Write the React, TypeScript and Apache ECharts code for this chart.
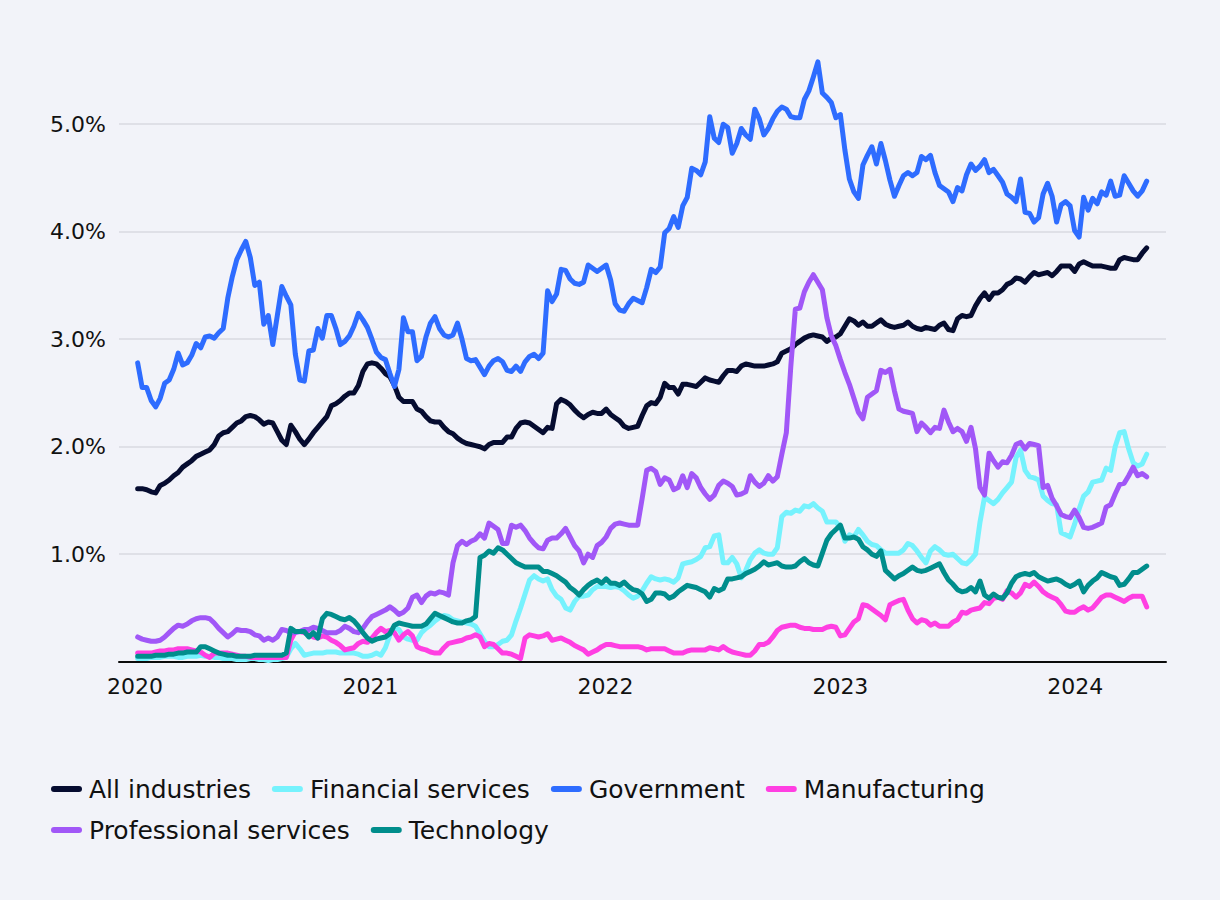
import React, { useEffect, useRef } from "react";
import * as echarts from "echarts";

// Weekly observations starting at this date
const START_DATE = "2020-01-05";
const WEEK_COUNT = 225;

const SERIES_NAMES = [
  "All industries",
  "Financial services",
  "Government",
  "Manufacturing",
  "Professional services",
  "Technology",
];

const Y_TICK_VALUES = [1, 2, 3, 4, 5];

const allIndustries = [
  1.61, 1.61, 1.6, 1.58, 1.57, 1.64, 1.66, 1.69, 1.73, 1.76,
  1.81, 1.84, 1.87, 1.91, 1.93, 1.95, 1.97, 2.02, 2.1, 2.13,
  2.14, 2.18, 2.22, 2.24, 2.28, 2.29, 2.28, 2.25, 2.21, 2.23,
  2.22, 2.14, 2.06, 2.02, 2.2, 2.14, 2.07, 2.02, 2.07, 2.13,
  2.18, 2.23, 2.28, 2.38, 2.4, 2.43, 2.47, 2.5, 2.5, 2.57,
  2.7, 2.77, 2.78, 2.77, 2.73, 2.68, 2.65, 2.57, 2.46, 2.42,
  2.42, 2.42, 2.35, 2.33, 2.28, 2.24, 2.23, 2.23, 2.18, 2.14,
  2.12, 2.08, 2.05, 2.03, 2.02, 2.01, 2.0, 1.98, 2.02, 2.04,
  2.04, 2.04, 2.09, 2.09, 2.17, 2.22, 2.23, 2.22, 2.19, 2.16,
  2.13, 2.18, 2.17, 2.4, 2.44, 2.42, 2.39, 2.34, 2.3, 2.27,
  2.3, 2.32, 2.31, 2.31, 2.35, 2.3, 2.27, 2.24, 2.19, 2.17,
  2.18, 2.19, 2.29, 2.38, 2.41, 2.4, 2.46, 2.59, 2.55, 2.55,
  2.49, 2.58, 2.58, 2.57, 2.56, 2.6, 2.64, 2.62, 2.61, 2.6,
  2.66, 2.71, 2.71, 2.7, 2.75, 2.77, 2.76, 2.75, 2.75, 2.75,
  2.76, 2.77, 2.79, 2.87, 2.89, 2.91, 2.95, 2.98, 3.01, 3.03,
  3.04, 3.03, 3.02, 2.98, 3.01, 3.02, 3.05, 3.12, 3.19, 3.17,
  3.13, 3.16, 3.12, 3.12, 3.15, 3.18, 3.14, 3.12, 3.11, 3.12,
  3.13, 3.16, 3.12, 3.1, 3.09, 3.11, 3.1, 3.09, 3.13, 3.15,
  3.09, 3.08, 3.19, 3.22, 3.21, 3.22, 3.31, 3.38, 3.43, 3.37,
  3.43, 3.43, 3.46, 3.51, 3.53, 3.57, 3.56, 3.53, 3.58, 3.62,
  3.6, 3.61, 3.62, 3.59, 3.63, 3.68, 3.68, 3.68, 3.63, 3.7,
  3.72, 3.7, 3.68, 3.68, 3.68, 3.67, 3.66, 3.66, 3.74, 3.76,
  3.75, 3.74, 3.74, 3.8, 3.85,
];

const financialServices = [
  0.03, 0.03, 0.03, 0.04, 0.04, 0.04, 0.05, 0.05, 0.05, 0.04,
  0.04, 0.05, 0.05, 0.05, 0.06, 0.05, 0.05, 0.04, 0.04, 0.03,
  0.03, 0.03, 0.02, 0.02, 0.02, 0.03, 0.03, 0.02, 0.02, 0.01,
  0.02, 0.02, 0.03, 0.04, 0.12, 0.17, 0.12, 0.06, 0.07, 0.08,
  0.08, 0.08, 0.09, 0.09, 0.09, 0.08, 0.08, 0.08, 0.08, 0.07,
  0.05, 0.05, 0.06, 0.08, 0.06, 0.13, 0.25, 0.32, 0.3, 0.23,
  0.21, 0.2, 0.2, 0.27, 0.31, 0.34, 0.38, 0.41, 0.43, 0.42,
  0.39, 0.38, 0.37, 0.36, 0.35, 0.33, 0.26, 0.19, 0.14, 0.14,
  0.16, 0.19, 0.2, 0.25, 0.38, 0.5, 0.63, 0.76, 0.8, 0.77,
  0.75, 0.77, 0.67, 0.61, 0.58, 0.5, 0.48, 0.56, 0.61, 0.61,
  0.62, 0.67, 0.7, 0.7, 0.7, 0.69, 0.7, 0.69, 0.66, 0.62,
  0.59, 0.61, 0.66, 0.73, 0.79, 0.77, 0.76, 0.77, 0.76, 0.74,
  0.78, 0.91, 0.92, 0.93, 0.95, 0.98, 1.06, 1.07, 1.17, 1.18,
  0.92, 0.92, 0.97, 0.91, 0.78, 0.85, 0.95, 1.01, 1.04, 1.01,
  1.0, 1.0, 1.06, 1.35, 1.39, 1.38, 1.41, 1.4, 1.45, 1.44,
  1.47, 1.43, 1.4, 1.3, 1.3, 1.3, 1.25, 1.12, 1.18, 1.16,
  1.23, 1.18, 1.12, 1.09, 1.08, 1.04, 1.01, 1.01, 1.01, 1.01,
  1.04, 1.1, 1.08, 1.03, 0.97, 0.92, 1.03, 1.07, 1.04, 1.0,
  0.99, 1.0, 0.96, 0.92, 0.91, 0.95, 1.0, 1.3, 1.53, 1.5,
  1.47, 1.51, 1.57, 1.62, 1.67, 1.9, 1.97, 1.78, 1.72, 1.71,
  1.69, 1.54, 1.5, 1.47, 1.46, 1.2, 1.18, 1.16, 1.28, 1.42,
  1.54, 1.58, 1.67, 1.68, 1.69, 1.8, 1.78, 2.0, 2.13, 2.14,
  1.98, 1.85, 1.82, 1.84, 1.93,
];

const government = [
  2.78, 2.55, 2.55, 2.43, 2.37, 2.45, 2.59, 2.62, 2.72, 2.87,
  2.76, 2.78, 2.85, 2.96, 2.92, 3.02, 3.03, 3.01, 3.06, 3.1,
  3.38, 3.58, 3.74, 3.83, 3.91, 3.76, 3.5, 3.53, 3.14, 3.22,
  2.95, 3.22, 3.49, 3.4, 3.32, 2.86, 2.62, 2.61, 2.89, 2.9,
  3.1, 3.01, 3.22, 3.22, 3.1, 2.95, 2.98, 3.03, 3.12, 3.24,
  3.18, 3.11, 3.0, 2.88, 2.83, 2.81, 2.68, 2.56, 2.72, 3.2,
  3.07, 3.07, 2.8, 2.84, 3.02, 3.15, 3.21, 3.1, 3.04, 3.02,
  3.04, 3.15, 3.0, 2.82, 2.8, 2.81, 2.74, 2.67, 2.75, 2.8,
  2.82, 2.79, 2.71, 2.7, 2.75, 2.7, 2.79, 2.84, 2.86, 2.82,
  2.87, 3.45, 3.35, 3.42, 3.65, 3.64, 3.56, 3.52, 3.51, 3.53,
  3.69, 3.66, 3.63, 3.66, 3.69, 3.55, 3.33, 3.27, 3.26, 3.33,
  3.38, 3.36, 3.34, 3.48, 3.65, 3.62, 3.67, 3.99, 4.03, 4.14,
  4.04, 4.24, 4.32, 4.59, 4.57, 4.53, 4.65, 5.07, 4.87, 4.83,
  5.0, 4.97, 4.73, 4.82, 4.96, 4.9, 4.86, 5.14, 5.05, 4.9,
  4.96, 5.05, 5.12, 5.16, 5.14, 5.07, 5.06, 5.06, 5.23, 5.31,
  5.44, 5.58, 5.29, 5.25, 5.2, 5.06, 5.09, 4.76, 4.49, 4.37,
  4.31, 4.62, 4.71, 4.79, 4.63, 4.82, 4.66, 4.48, 4.33, 4.43,
  4.52, 4.55, 4.52, 4.55, 4.7, 4.67, 4.71, 4.55, 4.43, 4.4,
  4.37, 4.28, 4.41, 4.38, 4.53, 4.63, 4.57, 4.61, 4.67, 4.55,
  4.58, 4.52, 4.46, 4.35, 4.32, 4.28, 4.49, 4.18, 4.17, 4.09,
  4.13, 4.35, 4.45, 4.33, 4.09, 4.25, 4.28, 4.24, 4.01, 3.95,
  4.32, 4.2, 4.31, 4.26, 4.37, 4.34, 4.47, 4.33, 4.34, 4.52,
  4.45, 4.38, 4.33, 4.38, 4.47,
];

const manufacturing = [
  0.08, 0.08, 0.08, 0.08, 0.09, 0.1, 0.1, 0.11, 0.11, 0.12,
  0.12, 0.12, 0.11, 0.1, 0.09, 0.06, 0.04, 0.08, 0.08, 0.08,
  0.08, 0.07, 0.06, 0.05, 0.05, 0.04, 0.04, 0.04, 0.04, 0.04,
  0.04, 0.04, 0.04, 0.04, 0.2, 0.28, 0.28, 0.27, 0.25, 0.23,
  0.22, 0.24, 0.23, 0.2, 0.18, 0.15, 0.11, 0.12, 0.13, 0.17,
  0.19, 0.18, 0.22, 0.27, 0.31, 0.28, 0.29, 0.27, 0.2, 0.25,
  0.28, 0.24, 0.14, 0.12, 0.11, 0.09, 0.08, 0.08, 0.13, 0.17,
  0.18, 0.19, 0.2, 0.22, 0.23, 0.25, 0.23, 0.14, 0.17, 0.16,
  0.12, 0.08, 0.08, 0.07, 0.05, 0.03, 0.22, 0.25, 0.24, 0.23,
  0.24, 0.26, 0.2, 0.21, 0.22, 0.2, 0.18, 0.15, 0.13, 0.11,
  0.07, 0.09, 0.11, 0.14, 0.16, 0.16, 0.15, 0.14, 0.14, 0.14,
  0.14, 0.14, 0.13, 0.11, 0.12, 0.12, 0.12, 0.12, 0.1, 0.08,
  0.08, 0.08, 0.1, 0.11, 0.11, 0.11, 0.11, 0.13, 0.12, 0.11,
  0.14, 0.11, 0.09, 0.08, 0.07, 0.06, 0.06, 0.1, 0.16, 0.16,
  0.18, 0.23, 0.29, 0.32, 0.33, 0.34, 0.34, 0.32, 0.31, 0.31,
  0.3, 0.3, 0.3, 0.32, 0.33, 0.32, 0.24, 0.25, 0.31, 0.37,
  0.4, 0.53, 0.52, 0.49, 0.46, 0.43, 0.39, 0.53, 0.55, 0.57,
  0.58, 0.48, 0.4, 0.36, 0.39, 0.38, 0.34, 0.36, 0.33, 0.33,
  0.33, 0.37, 0.39, 0.46, 0.45, 0.48, 0.49, 0.5, 0.55, 0.54,
  0.59, 0.6, 0.58, 0.66, 0.64, 0.6, 0.64, 0.72, 0.7, 0.74,
  0.7, 0.65, 0.62, 0.6, 0.58, 0.53, 0.47, 0.46, 0.46, 0.49,
  0.51, 0.48, 0.5, 0.55, 0.6, 0.62, 0.62, 0.6, 0.58, 0.56,
  0.59, 0.61, 0.61, 0.61, 0.51,
];

const professionalServices = [
  0.23, 0.21, 0.2, 0.19, 0.19, 0.2, 0.23, 0.27, 0.31, 0.34,
  0.33, 0.35, 0.38, 0.4, 0.41, 0.41, 0.4, 0.36, 0.31, 0.27,
  0.23, 0.26, 0.3, 0.29, 0.29, 0.28, 0.25, 0.24, 0.2, 0.22,
  0.2, 0.23, 0.3, 0.29, 0.27, 0.27, 0.28, 0.3, 0.3, 0.32,
  0.31, 0.29, 0.27, 0.27, 0.27, 0.29, 0.33, 0.31, 0.28, 0.27,
  0.31, 0.37, 0.42, 0.44, 0.46, 0.48, 0.51, 0.48, 0.44, 0.46,
  0.5, 0.6, 0.62, 0.55, 0.61, 0.64, 0.63, 0.65, 0.64, 0.62,
  0.92, 1.08, 1.12, 1.09, 1.12, 1.14, 1.19, 1.15, 1.29, 1.26,
  1.23, 1.1, 1.1, 1.27, 1.25, 1.27, 1.22, 1.15, 1.1, 1.06,
  1.05, 1.13, 1.15, 1.15, 1.19, 1.24, 1.16, 1.08, 1.03, 0.92,
  1.0, 0.97, 1.08, 1.11, 1.16, 1.24, 1.28, 1.29, 1.28, 1.27,
  1.27, 1.27, 1.52, 1.78, 1.8, 1.77, 1.65, 1.71, 1.69, 1.6,
  1.62, 1.73, 1.62, 1.75, 1.71, 1.62, 1.56, 1.51, 1.55, 1.64,
  1.68, 1.66, 1.63, 1.55, 1.56, 1.58, 1.73, 1.67, 1.63, 1.66,
  1.73, 1.68, 1.72, 1.93, 2.13, 2.75, 3.28, 3.29, 3.44, 3.53,
  3.6, 3.53, 3.46, 3.2, 3.03, 2.94, 2.81, 2.69, 2.58, 2.45,
  2.32, 2.26, 2.46, 2.49, 2.52, 2.71, 2.69, 2.72, 2.52, 2.35,
  2.33, 2.32, 2.31, 2.14, 2.22, 2.18, 2.13, 2.18, 2.17, 2.34,
  2.23, 2.14, 2.17, 2.14, 2.05, 2.18, 1.98, 1.62, 1.55, 1.94,
  1.87, 1.81, 1.86, 1.85, 1.92, 2.02, 2.04, 1.98, 2.03, 2.02,
  2.01, 1.62, 1.64, 1.52, 1.45, 1.37, 1.35, 1.34, 1.41, 1.34,
  1.25, 1.24, 1.25, 1.27, 1.29, 1.44, 1.46, 1.56, 1.65, 1.66,
  1.73, 1.81, 1.73, 1.75, 1.72,
];

const technology = [
  0.05, 0.05, 0.05, 0.05, 0.06, 0.06, 0.06, 0.07, 0.07, 0.08,
  0.08, 0.09, 0.09, 0.09, 0.14, 0.14, 0.12, 0.1, 0.08, 0.07,
  0.06, 0.06, 0.05, 0.05, 0.05, 0.05, 0.06, 0.06, 0.06, 0.06,
  0.06, 0.06, 0.06, 0.08, 0.31, 0.28, 0.28, 0.28, 0.23, 0.27,
  0.22, 0.4, 0.45, 0.44, 0.42, 0.4, 0.39, 0.41, 0.38, 0.33,
  0.27, 0.22, 0.19, 0.21, 0.22, 0.23, 0.26, 0.34, 0.36, 0.35,
  0.34, 0.33, 0.33, 0.33, 0.35, 0.4, 0.45, 0.43, 0.41, 0.39,
  0.37, 0.36, 0.36, 0.38, 0.39, 0.42, 0.97, 0.99, 1.03, 1.01,
  1.06, 1.04, 1.0, 0.96, 0.92, 0.9, 0.88, 0.88, 0.88, 0.88,
  0.84, 0.84, 0.82, 0.8, 0.77, 0.74, 0.69, 0.66, 0.62, 0.67,
  0.71, 0.74, 0.76, 0.73, 0.77, 0.73, 0.73, 0.71, 0.74, 0.7,
  0.67, 0.66, 0.63, 0.56, 0.58, 0.64, 0.64, 0.63, 0.59, 0.61,
  0.65, 0.68, 0.71, 0.7, 0.69, 0.67, 0.65, 0.6, 0.68, 0.66,
  0.68, 0.77, 0.77, 0.78, 0.79, 0.82, 0.84, 0.86, 0.89, 0.93,
  0.9, 0.91, 0.92, 0.89, 0.88, 0.88, 0.89, 0.93, 0.96, 0.92,
  0.9, 0.89, 1.01, 1.13, 1.19, 1.23, 1.27, 1.15, 1.15, 1.16,
  1.14, 1.07, 1.04, 1.0, 0.98, 1.03, 0.85, 0.81, 0.77, 0.8,
  0.82, 0.85, 0.88, 0.85, 0.84, 0.85, 0.87, 0.89, 0.91, 0.83,
  0.76, 0.72, 0.67, 0.65, 0.66, 0.69, 0.65, 0.75, 0.62, 0.59,
  0.63, 0.6, 0.59, 0.64, 0.73, 0.79, 0.81, 0.82, 0.81, 0.83,
  0.79, 0.77, 0.75, 0.76, 0.77, 0.75, 0.72, 0.7, 0.72, 0.75,
  0.65, 0.71, 0.75, 0.78, 0.83, 0.81, 0.79, 0.78, 0.71, 0.72,
  0.77, 0.83, 0.83, 0.86, 0.89,
];

const SERIES_VALUES = [
  allIndustries,
  financialServices,
  government,
  manufacturing,
  professionalServices,
  technology,
];

const SERIES_COLORS = ["#060c30", "#76f2fd", "#2e6cff", "#ff3fe2", "#a157f7", "#008d8c"];

const LEGEND_ROWS = [SERIES_NAMES.slice(0, 4), SERIES_NAMES.slice(4)];

const BG = "#f2f3f9";
const FONT = "'DejaVu Sans', sans-serif";

function weeklyDates(start: string, n: number): string[] {
  const [y, m, d] = start.split("-").map(Number);
  const out: string[] = [];
  for (let i = 0; i < n; i++) {
    const dt = new Date(Date.UTC(y, m - 1, d + 7 * i));
    out.push(dt.toISOString().slice(0, 10));
  }
  return out;
}

export default function App() {
  const ref = useRef<HTMLDivElement>(null);

  useEffect(() => {
    if (!ref.current) return;
    document.body.style.margin = "0";
    document.body.style.background = BG;
    const chart = echarts.init(ref.current, undefined, { renderer: "svg" });
    const dates = weeklyDates(START_DATE, WEEK_COUNT);

    const series = SERIES_NAMES.map((name, si) => ({
      name,
      type: "line",
      showSymbol: false,
      symbol: "none",
      color: SERIES_COLORS[si],
      lineStyle: { width: 5, color: SERIES_COLORS[si], cap: "round", join: "round" },
      emphasis: { disabled: true },
      data: dates.map((d, i) => [d, SERIES_VALUES[si][i]]),
      z: 2 + si,
    }));

    const legendRowTops = [776.5, 817.5];
    const legend = LEGEND_ROWS.map((names, r) => ({
      left: 51,
      top: legendRowTops[r],
      width: 1100,
      padding: 0,
      itemWidth: 31,
      itemHeight: 6,
      itemGap: 21,
      icon: "path://M3 0H28A3 3 0 0 1 28 6H3A3 3 0 0 1 3 0Z",
      textStyle: {
        fontSize: 25,
        color: "#111111",
        fontFamily: FONT,
        padding: [0, 0, 0, 2],
      },
      data: names,
      selectedMode: false,
    }));

    chart.setOption({
      animation: false,
      backgroundColor: BG,
      textStyle: { fontFamily: FONT },
      grid: { left: 119, right: 54, top: 16.7, bottom: 238.3, containLabel: false },
      legend,
      xAxis: {
        type: "time",
        min: "2019-12-07",
        max: "2024-05-21",
        splitNumber: 4,
        axisLine: { show: true, lineStyle: { color: "#0b0b0b", width: 2 } },
        axisTick: { show: false },
        splitLine: { show: false },
        axisLabel: {
          fontSize: 22,
          color: "#111111",
          fontFamily: FONT,
          margin: 14,
          hideOverlap: false,
          showMinLabel: false,
          showMaxLabel: false,
          formatter: (v: number) => {
            const d = new Date(v);
            return d.getMonth() === 0 && d.getDate() === 1 ? String(d.getFullYear()) : "";
          },
        },
      },
      yAxis: {
        type: "value",
        min: 0,
        max: 6,
        interval: 1,
        axisLine: { show: false },
        axisTick: { show: false },
        splitLine: {
          show: true,
          showMinLine: false,
          showMaxLine: false,
          lineStyle: { color: "#d9dae1", width: 1.5 },
        },
        axisLabel: {
          fontSize: 22,
          color: "#111111",
          fontFamily: FONT,
          margin: 13,
          showMaxLabel: false,
          formatter: (v: number) => (Y_TICK_VALUES.includes(v) ? v.toFixed(1) + "%" : ""),
        },
      },
      series,
    });

    return () => chart.dispose();
  }, []);

  return (
    <div
      ref={ref}
      style={{ position: "absolute", left: 0, top: 0, width: 1220, height: 900, background: BG }}
    />
  );
}
